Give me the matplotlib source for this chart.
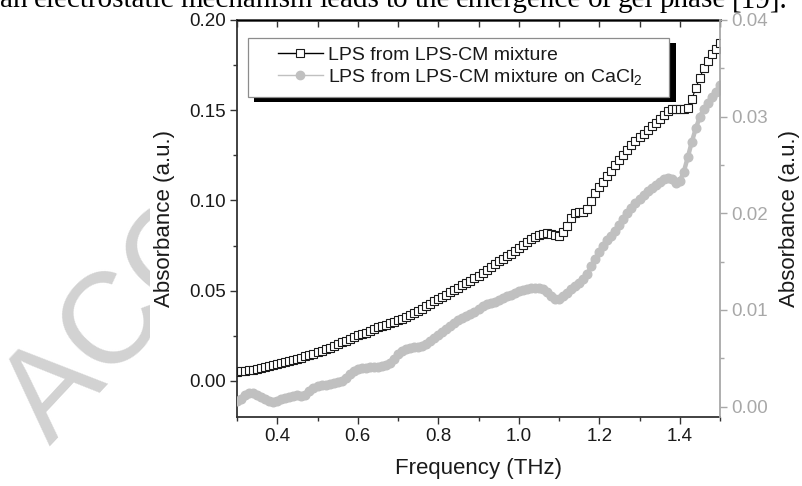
import numpy as np
import matplotlib

matplotlib.use("Agg")
import matplotlib.pyplot as plt
from matplotlib.lines import Line2D
from matplotlib.patches import Rectangle
from matplotlib.ticker import MultipleLocator, FormatStrFormatter
from matplotlib.transforms import Bbox

plt.rcParams["font.family"] = ["Liberation Sans", "DejaVu Sans"]
plt.rcParams["mathtext.fontset"] = "custom"
plt.rcParams["mathtext.rm"] = "Liberation Sans"
plt.rcParams["mathtext.default"] = "regular"

# THz, sampled every 0.01 from 0.30 to 1.50
FREQ = np.round(np.arange(0.30, 1.505, 0.01), 2)

# left axis, black open squares
LPS_MIXTURE = [
    0.0050, 0.0053, 0.0056, 0.0059, 0.0062, 0.0066, 0.0071, 0.0076, 0.0081, 0.0087,
    0.0093, 0.0099, 0.0105, 0.0111, 0.0117, 0.0122, 0.0129, 0.0136, 0.0143, 0.0150,
    0.0158, 0.0166, 0.0175, 0.0185, 0.0194, 0.0203, 0.0213, 0.0223, 0.0233, 0.0243,
    0.0252, 0.0260, 0.0268, 0.0276, 0.0286, 0.0296, 0.0304, 0.0312, 0.0320, 0.0328,
    0.0336, 0.0345, 0.0354, 0.0363, 0.0374, 0.0386, 0.0399, 0.0414, 0.0428, 0.0441,
    0.0453, 0.0465, 0.0477, 0.0490, 0.0503, 0.0516, 0.0530, 0.0543, 0.0556, 0.0569,
    0.0582, 0.0598, 0.0614, 0.0630, 0.0648, 0.0665, 0.0678, 0.0692, 0.0706, 0.0722,
    0.0737, 0.0752, 0.0768, 0.0784, 0.0798, 0.0808, 0.0815, 0.0818, 0.0816, 0.0810,
    0.0805, 0.0825, 0.0860, 0.0905, 0.0930, 0.0935, 0.0935, 0.0955, 0.0995, 0.1040,
    0.1075, 0.1105, 0.1135, 0.1165, 0.1195, 0.1225, 0.1250, 0.1280, 0.1305, 0.1330,
    0.1350, 0.1370, 0.1390, 0.1410, 0.1430, 0.1450, 0.1475, 0.1495, 0.1505, 0.1508,
    0.1508, 0.1505, 0.1515, 0.1560, 0.1625, 0.1680, 0.1735, 0.1775, 0.1810, 0.1840,
    0.1870,
]

# right axis, grey filled circles
LPS_ON_CACL2 = [
    0.0006, 0.0008, 0.0012, 0.0014, 0.0014, 0.0012, 0.0010, 0.0008, 0.0006, 0.0005,
    0.0006, 0.0008, 0.0009, 0.0010, 0.0011, 0.0012, 0.0011, 0.0012, 0.0016, 0.0019,
    0.0021, 0.0022, 0.0022, 0.0023, 0.0024, 0.0025, 0.0027, 0.0030, 0.0034, 0.0037,
    0.0039, 0.0040, 0.0040, 0.0041, 0.0041, 0.0041, 0.0042, 0.0043, 0.0045, 0.0049,
    0.0054, 0.0058, 0.0060, 0.0061, 0.0062, 0.0062, 0.0063, 0.0065, 0.0068, 0.0071,
    0.0074, 0.0077, 0.0080, 0.0083, 0.0087, 0.0090, 0.0092, 0.0094, 0.0096, 0.0098,
    0.0101, 0.0104, 0.0106, 0.0107, 0.0108, 0.0110, 0.0112, 0.0114, 0.0116, 0.0118,
    0.0120, 0.0121, 0.0122, 0.0123, 0.0123, 0.0123, 0.0122, 0.0119, 0.0114, 0.0111,
    0.0111, 0.0114, 0.0118, 0.0122, 0.0125, 0.0128, 0.0132, 0.0137, 0.0145, 0.0153,
    0.0160, 0.0166, 0.0172, 0.0177, 0.0182, 0.0188, 0.0194, 0.0200, 0.0206, 0.0211,
    0.0215, 0.0219, 0.0223, 0.0226, 0.0229, 0.0232, 0.0235, 0.0237, 0.0235, 0.0231,
    0.0233, 0.0243, 0.0258, 0.0274, 0.0288, 0.0300, 0.0308, 0.0314, 0.0320, 0.0326,
    0.0333,
]

LABELS = ["LPS from LPS-CM mixture", "LPS from LPS-CM mixture on CaCl$_2$"]
PAGE_LINE = "an electrostatic mechanism leads to the emergence of gel phase [19]."
GREY = "#a8a8a8"
DOT = "#c0c0c0"
W, H = 802, 486


def ax_frac(px, py):
    # figure pixel (y down) -> axes fraction of the main axes
    return (px - 237) / 483, (417 - py) / 397


fig = plt.figure(figsize=(W / 100, H / 100), dpi=100)
fig.patch.set_facecolor("white")

# "ACC" watermark of the page, only visible left of the figure
wm = fig.text(50 / W, 1 - 446 / H, "ACC", rotation=47, rotation_mode="anchor",
              ha="left", va="baseline", fontsize=93, color="#d2d2d2", zorder=0)
wm.set_clip_box(Bbox([[0, 0], [150, H]]))
wm.set_clip_on(True)

ax = fig.add_axes([237 / W, 1 - 417 / H, 483 / W, 397 / H])
ax2 = ax.twinx()

ax2.plot(FREQ, LPS_ON_CACL2, color=DOT, lw=3.2, marker="o", ms=6.2,
         mfc=DOT, mec=DOT, zorder=2)
ax.plot(FREQ, LPS_MIXTURE, color="black", lw=0.8, marker="s", ms=5.2,
        mfc="white", mec="#1a1a1a", mew=0.8, zorder=3)

ax.set_xlim(0.3, 1.5)
ax.set_ylim(-0.02, 0.20)
ax2.set_ylim(-0.00107, 0.04)

ax.xaxis.set_major_locator(MultipleLocator(0.2))
ax.xaxis.set_minor_locator(MultipleLocator(0.1))
ax.xaxis.set_major_formatter(FormatStrFormatter("%.1f"))
ax.yaxis.set_major_locator(MultipleLocator(0.05))
ax.yaxis.set_minor_locator(MultipleLocator(0.025))
ax.yaxis.set_major_formatter(FormatStrFormatter("%.2f"))
ax2.yaxis.set_major_locator(MultipleLocator(0.01))
ax2.yaxis.set_minor_locator(MultipleLocator(0.005))
ax2.yaxis.set_major_formatter(FormatStrFormatter("%.2f"))

ax.tick_params(axis="both", which="major", direction="out", length=5, width=1.0,
               labelsize=13.5, colors="#333333", labelcolor="#1a1a1a", pad=3)
ax.tick_params(axis="both", which="minor", direction="out", length=3, width=1.0,
               colors="#333333")
ax2.tick_params(axis="y", which="major", direction="out", length=5, width=1.0,
                labelsize=13.5, colors=GREY, labelcolor=GREY, pad=3)
ax2.tick_params(axis="y", which="minor", direction="out", length=3, width=1.0,
                colors=GREY)

# top axis: inward ticks, no labels
top = ax.secondary_xaxis("top")
top.xaxis.set_major_locator(MultipleLocator(0.1))
top.tick_params(direction="in", length=5, width=1.0, colors="#333333", labeltop=False)
top.spines["top"].set_color("#444444")
top.spines["top"].set_linewidth(2.0)

for side in ("left", "bottom"):
    ax.spines[side].set_color("#333333")
    ax.spines[side].set_linewidth(1.3)
for side in ("left", "bottom", "top"):
    ax2.spines[side].set_visible(False)
ax2.spines["right"].set_color(GREY)
ax2.spines["right"].set_linewidth(1.3)
ax.spines["right"].set_visible(False)

ax.set_xlabel("Frequency (THz)", fontsize=16, color="#1a1a1a", labelpad=9)
ax.set_ylabel("Absorbance (a.u.)", fontsize=16, color="#1a1a1a", labelpad=10)
ax2.set_ylabel("Absorbance (a.u.)", fontsize=16, color="#1a1a1a", labelpad=8)

# legend: shadow + frame drawn by hand, entries without frame
sx0, sy0 = ax_frac(254, 102)
sx1, sy1 = ax_frac(676, 43)
ax2.add_patch(Rectangle((sx0, sy0), sx1 - sx0, sy1 - sy0, transform=ax2.transAxes,
                        facecolor="black", edgecolor="none", zorder=6))
fx0, fy0 = ax_frac(248, 97)
fx1, fy1 = ax_frac(669, 38)
ax2.add_patch(Rectangle((fx0, fy0), fx1 - fx0, fy1 - fy0, transform=ax2.transAxes,
                        facecolor="white", edgecolor="#8c8c8c", lw=0.9, zorder=7))
handles = [
    Line2D([], [], color="black", lw=1.0, marker="s", ms=5.2, mfc="white",
           mec="#1a1a1a", mew=0.8),
    Line2D([], [], color=DOT, lw=1.0, marker="o", ms=6.0, mfc=DOT, mec=DOT),
]
lx, ly = ax_frac(278, 46)
leg = ax2.legend(handles, LABELS, loc="upper left", bbox_to_anchor=(lx, ly),
                 frameon=False, borderpad=0, borderaxespad=0, fontsize=14,
                 handlelength=2.3, handletextpad=0.25, labelspacing=0.15)
leg.set_zorder(8)
for t in leg.get_texts():
    t.set_color("#1a1a1a")

# cut-off line of body text above the figure, justified across 0..788 px
words = PAGE_LINE.split()
word_texts = [fig.text(0, 1 - 7 / H, w, ha="left", va="baseline",
                       family="Liberation Serif", fontsize=21, color="black")
              for w in words]
fig.canvas.draw()
widths = [t.get_window_extent().width for t in word_texts]
gap = (788 - sum(widths)) / (len(words) - 1)
x = 0.0
for t, w in zip(word_texts, widths):
    t.set_x(x / W)
    x += w + gap

fig.savefig("out.png", dpi=100, facecolor="white")
